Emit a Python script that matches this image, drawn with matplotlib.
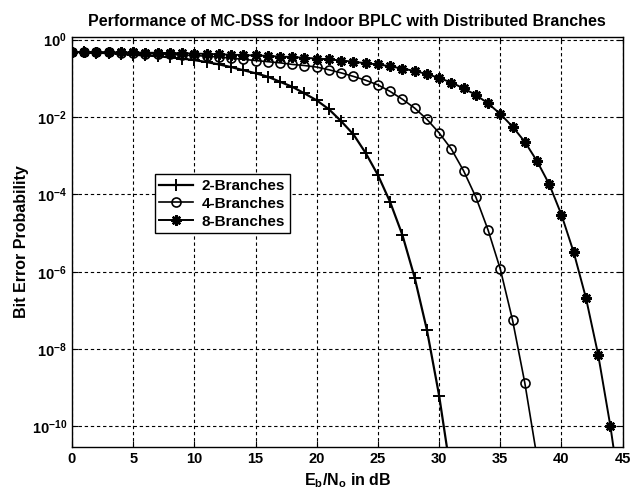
import matplotlib
matplotlib.use("Agg")
import matplotlib.pyplot as plt
from matplotlib.ticker import FixedLocator, NullLocator

# Eb/No in dB (one marker per dB)
snr_2 = list(range(0, 32))
snr_4 = list(range(0, 39))
snr_8 = list(range(0, 46))

# bit error probability
ber_2 = [4.79e-1, 4.68e-1, 4.57e-1, 4.47e-1, 4.27e-1, 4.07e-1, 3.89e-1, 3.72e-1,
         3.47e-1, 3.24e-1, 2.95e-1, 2.63e-1, 2.29e-1, 1.95e-1, 1.62e-1, 1.35e-1,
         1.10e-1, 8.13e-2, 6.03e-2, 4.07e-2, 2.69e-2, 1.58e-2, 7.76e-3, 3.55e-3,
         1.17e-3, 3.16e-4, 6.31e-5, 8.91e-6, 7.08e-7, 3.16e-8, 6.31e-10, 5.01e-12]
ber_4 = [4.79e-1, 4.79e-1, 4.68e-1, 4.68e-1, 4.57e-1, 4.47e-1, 4.37e-1, 4.27e-1,
         4.17e-1, 3.98e-1, 3.89e-1, 3.72e-1, 3.55e-1, 3.31e-1, 3.09e-1, 2.88e-1,
         2.69e-1, 2.51e-1, 2.29e-1, 2.14e-1, 1.95e-1, 1.66e-1, 1.38e-1, 1.12e-1,
         8.91e-2, 6.76e-2, 4.57e-2, 2.88e-2, 1.70e-2, 8.71e-3, 3.89e-3, 1.48e-3,
         4.07e-4, 8.51e-5, 1.20e-5, 1.17e-6, 5.62e-8, 1.35e-9, 1.58e-11]
ber_8 = [4.79e-1, 4.79e-1, 4.79e-1, 4.68e-1, 4.68e-1, 4.68e-1, 4.57e-1, 4.57e-1,
         4.47e-1, 4.47e-1, 4.37e-1, 4.27e-1, 4.17e-1, 4.07e-1, 3.98e-1, 3.89e-1,
         3.80e-1, 3.63e-1, 3.55e-1, 3.39e-1, 3.24e-1, 3.09e-1, 2.88e-1, 2.69e-1,
         2.45e-1, 2.29e-1, 2.04e-1, 1.78e-1, 1.55e-1, 1.29e-1, 1.02e-1, 7.76e-2,
         5.50e-2, 3.72e-2, 2.24e-2, 1.20e-2, 5.62e-3, 2.29e-3, 7.24e-4, 1.82e-4,
         2.95e-5, 3.16e-6, 2.09e-7, 7.08e-9, 1.00e-10, 6.3e-13]

labels = ['2-Branches', '4-Branches', '8-Branches']
yticks = [1e-10, 1e-8, 1e-6, 1e-4, 1e-2, 1e0]
xticks = list(range(0, 46, 5))

plt.rcParams['font.family'] = ['Liberation Sans', 'DejaVu Sans']
plt.rcParams['font.weight'] = 'bold'
plt.rcParams['mathtext.fontset'] = 'custom'
plt.rcParams['mathtext.rm'] = 'Liberation Sans:bold'
plt.rcParams['mathtext.bf'] = 'Liberation Sans:bold'
plt.rcParams['mathtext.it'] = 'Liberation Sans:bold'

fig = plt.figure(figsize=(6.33, 4.95), dpi=100)
ax = fig.add_axes([0.1137, 0.097, 0.870, 0.828])

ax.semilogy(snr_2, ber_2, 'k-', marker='+', ms=9, mew=1.4, lw=1.6, label=labels[0])
ax.semilogy(snr_4, ber_4, 'k-', marker='o', ms=6.5, mew=1.2, mfc='none', lw=1.2, label=labels[1])
ax.semilogy(snr_8, ber_8, 'k-', marker=(8, 2, 0), ms=7.5, mew=1.7, lw=1.4, label=labels[2])

ax.set_xlim(0, 45)
ax.set_ylim(2.95e-11, 1.16)
ax.xaxis.set_major_locator(FixedLocator(xticks))
ax.yaxis.set_major_locator(FixedLocator(yticks))
ax.yaxis.set_minor_locator(NullLocator())
ax.grid(True, which='major', color='k', linestyle=(0, (3, 2.5)), linewidth=0.8)
ax.tick_params(direction='in', top=True, right=True, labelsize=10.5, length=4)
for sp in ax.spines.values():
    sp.set_linewidth(1.0)

ax.set_title('Performance of MC-DSS for Indoor BPLC with Distributed Branches',
             fontsize=11.5, fontweight='bold', pad=8)
ax.set_xlabel(r'E$_\mathrm{b}$/N$_\mathrm{o}$ in dB', fontsize=11.5, fontweight='bold')
ax.set_ylabel('Bit Error Probability', fontsize=11.5, fontweight='bold', labelpad=2)

leg = ax.legend(loc='upper left', bbox_to_anchor=(0.15, 0.665), fancybox=False,
                edgecolor='k', framealpha=1, fontsize=11, handlelength=2.2,
                borderpad=0.3, labelspacing=0.25, handletextpad=0.6, borderaxespad=0)
leg.get_frame().set_linewidth(1.0)

fig.savefig('out.png', dpi=100)
